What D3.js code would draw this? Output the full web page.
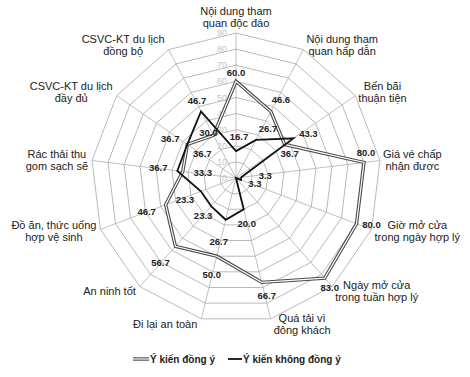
<!DOCTYPE html>
<html>
<head>
<meta charset="utf-8">
<script src="https://cdn.jsdelivr.net/npm/d3@7"></script>
<style>
  body { margin: 0; background: #fff; }
  svg { display: block; font-family: "Liberation Sans", Arial, sans-serif; }
</style>
</head>
<body>
<svg id="chart" width="470" height="377"></svg>
<script>
// categories, clockwise from the top
const categories = [
  ["Nội dung tham", "quan độc đáo"],
  ["Nội dung tham", "quan hấp dẫn"],
  ["Bến bãi", "thuận tiện"],
  ["Giá vé chấp", "nhận được"],
  ["Giờ mở cửa", "trong ngày hợp lý"],
  ["Ngày mở cửa", "trong tuần hợp lý"],
  ["Quá tải vì", "đông khách"],
  ["Đi lại an toàn"],
  ["An ninh tốt"],
  ["Đồ ăn, thức uống", "hợp vệ sinh"],
  ["Rác thải thu", "gom sạch sẽ"],
  ["CSVC-KT du lịch", "đầy đủ"],
  ["CSVC-KT du lịch", "đồng bộ"]
];
const agree    = [60.0, 46.6, 36.7, 80.0, 80.0, 83.0, 66.7, 50.0, 56.7, 46.7, 33.3, 36.7, 30.0];
const disagree = [16.7, 26.7, 43.3, 3.3, 3.3, 0, 20.0, 26.7, 23.3, 23.3, 36.7, 36.7, 46.7];
const ticks = [0, 10, 20, 30, 40, 50, 60, 70, 80, 90];
const seriesNames = ["Ý kiến đồng ý", "Ý kiến không đồng ý"];

// where each value label sits relative to its point (px)
const agreeNudge = [[0,-9],[10,-12],[5,9],[2,-10],[15,1],[5,10],[5,13],[-5,18],[-15,16],[-19,7],[20,1],[-17,-6],[-5,-3]];
const disagreeNudge = [[3,-14],[12,-11],[15,-5],[24,-2],[14,4],[0,0],[3,14],[-7,22],[-8,10],[-16,8],[-19,-3],[15,9],[-4,-11]];

const cx = 236, cy = 178;
const n = categories.length;
const r = d3.scaleLinear().domain([0, 90]).range([0, 145]);
const angle = i => i * 2 * Math.PI / n;
const pt = (i, v) => [cx + r(v) * Math.sin(angle(i)), cy - r(v) * Math.cos(angle(i))];

const svg = d3.select("#chart");
const g = svg.append("g").attr("transform", `translate(${cx},${cy})`);

const radial = d3.lineRadial()
  .angle((d, i) => angle(i))
  .radius(d => r(d))
  .curve(d3.curveLinearClosed);

// grid rings
g.selectAll(".ring")
  .data(ticks.slice(1))
  .enter().append("path")
  .attr("d", t => radial(d3.range(n).map(() => t)))
  .attr("fill", "none")
  .attr("stroke", "#a8a8a8")
  .attr("stroke-width", 0.8);

// spokes
g.selectAll(".spoke")
  .data(d3.range(n))
  .enter().append("line")
  .attr("x1", 0).attr("y1", 0)
  .attr("x2", i => r(90) * Math.sin(angle(i)))
  .attr("y2", i => -r(90) * Math.cos(angle(i)))
  .attr("stroke", "#b0b0b0")
  .attr("stroke-width", 0.8);

// tick labels along the top axis
g.selectAll(".tick")
  .data(ticks)
  .enter().append("text")
  .attr("x", -9)
  .attr("y", t => -r(t))
  .attr("dy", "0.35em")
  .attr("text-anchor", "end")
  .attr("font-size", 9)
  .attr("fill", "#c4c4c4")
  .text(t => t);

// category labels, lines centred inside a box next to the outer vertex
categories.forEach((lines, i) => {
  const a = angle(i);
  const [vx, vy] = pt(i, 90);
  const lh = 12;
  const t = svg.append("text")
    .attr("font-size", 11)
    .attr("fill", "#222");
  const spans = lines.map(s => t.append("tspan").text(s));
  const w = d3.max(spans.map(s => s.node().getComputedTextLength()));
  let left, midY;
  if (i === 0) {
    left = vx - w / 2;
    midY = vy - 4 - lines.length * lh / 2;
  } else if (Math.sin(a) > 0) {
    left = vx + 3;
    midY = vy - 5.5 * Math.cos(a);
  } else {
    left = vx - 4 - w;
    midY = vy - 5.5 * Math.cos(a);
  }
  spans.forEach((s, j) => {
    s.attr("x", left + w / 2)
      .attr("y", midY + (j - (lines.length - 1) / 2) * lh)
      .attr("dy", "0.35em")
      .attr("text-anchor", "middle");
  });
});

// value labels (drawn under the lines, as in the source)
[[agree, agreeNudge], [disagree, disagreeNudge]].forEach(([values, nudge]) => {
  values.forEach((v, i) => {
    if (v <= 0) return;
    const [x, y] = pt(i, v);
    svg.append("text")
      .attr("x", x + nudge[i][0])
      .attr("y", y + nudge[i][1])
      .attr("dy", "0.35em")
      .attr("text-anchor", "middle")
      .attr("font-size", 9.5)
      .attr("font-weight", "bold")
      .attr("fill", "#222")
      .text(v.toFixed(1));
  });
});

// series: agree as a hollow double line, disagree as a solid black line
g.append("path")
  .attr("d", radial(agree))
  .attr("fill", "none")
  .attr("stroke", "#4a4a4a")
  .attr("stroke-width", 3.4);
g.append("path")
  .attr("d", radial(agree))
  .attr("fill", "none")
  .attr("stroke", "#ffffff")
  .attr("stroke-width", 1.2);
g.append("path")
  .attr("d", radial(disagree))
  .attr("fill", "none")
  .attr("stroke", "#111")
  .attr("stroke-width", 1.8);

// legend
const lg = svg.append("g").attr("transform", "translate(0,359)");
lg.append("line").attr("x1", 133).attr("x2", 149).attr("stroke", "#4a4a4a").attr("stroke-width", 3.4);
lg.append("line").attr("x1", 133).attr("x2", 149).attr("stroke", "#fff").attr("stroke-width", 1.2);
lg.append("line").attr("x1", 228).attr("x2", 242).attr("stroke", "#111").attr("stroke-width", 1.8);
lg.append("text").attr("x", 150).attr("dy", "0.35em").attr("font-size", 10).attr("font-weight", "bold").attr("fill", "#222").text(seriesNames[0]);
lg.append("text").attr("x", 243).attr("dy", "0.35em").attr("font-size", 10).attr("font-weight", "bold").attr("fill", "#222").text(seriesNames[1]);
</script>
</body>
</html>
